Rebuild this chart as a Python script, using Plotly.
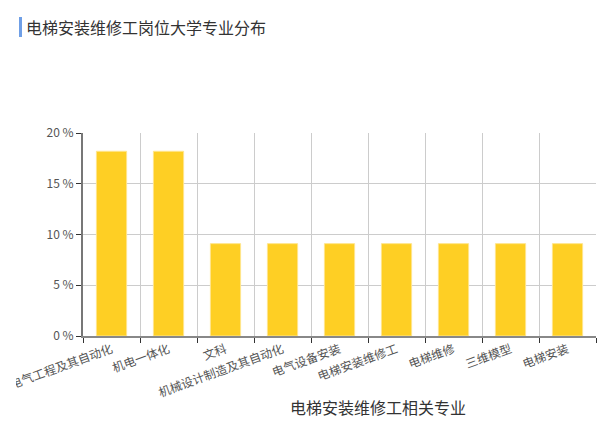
import plotly.graph_objects as go

majors = ["电气工程及其自动化", "机电一体化", "文科", "机械设计制造及其自动化",
          "电气设备安装", "电梯安装维修工", "电梯维修", "三维模型", "电梯安装"]
share = [18.2, 18.2, 9.1, 9.1, 9.1, 9.1, 9.1, 9.1, 9.1]
y_ticks = [0, 5, 10, 15, 20]
y_labels = ["0 %", "5 %", "10 %", "15 %", "20 %"]

font = "Noto Sans CJK SC"

fig = go.Figure(go.Bar(
    x=majors,
    y=share,
    width=0.53,
    marker=dict(color="#FECF24", line=dict(color="#FFE58C", width=1)),
    hovertemplate="%{x}: %{y} %<extra></extra>",
))

fig.update_layout(
    width=597, height=427,
    margin=dict(l=67, r=17, t=133, b=91),
    paper_bgcolor="white", plot_bgcolor="white",
    font=dict(family=font, size=12, color="#555"),
    showlegend=False,
    shapes=[dict(type="rect", xref="paper", yref="paper",
                 x0=-64/513, x1=-61/513, y0=1 + 96/203, y1=1 + 116/203,
                 fillcolor="#6F9FE6", line_width=0)],
    annotations=[
        dict(text="电梯安装维修工岗位大学专业分布", xref="paper", yref="paper",
             x=-59/513, y=1 + 106/203, xanchor="left", yanchor="middle",
             showarrow=False, font=dict(size=16, color="#333")),
        dict(text="电梯安装维修工相关专业", xref="paper", yref="paper",
             x=295/513, y=-71/203, xanchor="center", yanchor="middle",
             showarrow=False, font=dict(size=16, color="#333")),
    ],
)

fig.update_xaxes(
    type="category", tickson="boundaries", ticks="outside", ticklen=5,
    tickcolor="#333", showgrid=True, gridcolor="#ccc", gridwidth=1,
    showline=True, linecolor="#888", linewidth=2,
    tickangle=-20, tickfont=dict(size=12, color="#555"), automargin=False,
)
fig.update_yaxes(
    range=[0, 20], tickvals=y_ticks, ticktext=y_labels, ticks="outside", ticklen=5,
    tickcolor="#333", showgrid=True, gridcolor="#ccc", gridwidth=1,
    showline=True, linecolor="#777", linewidth=2, zeroline=False,
    tickfont=dict(size=12, color="#555"), automargin=False,
)

# the chart sits 16px in from the left of the page, like the original container
fig.write_html("out.html", post_script="document.body.style.margin='0px 0px 0px 16px';")
